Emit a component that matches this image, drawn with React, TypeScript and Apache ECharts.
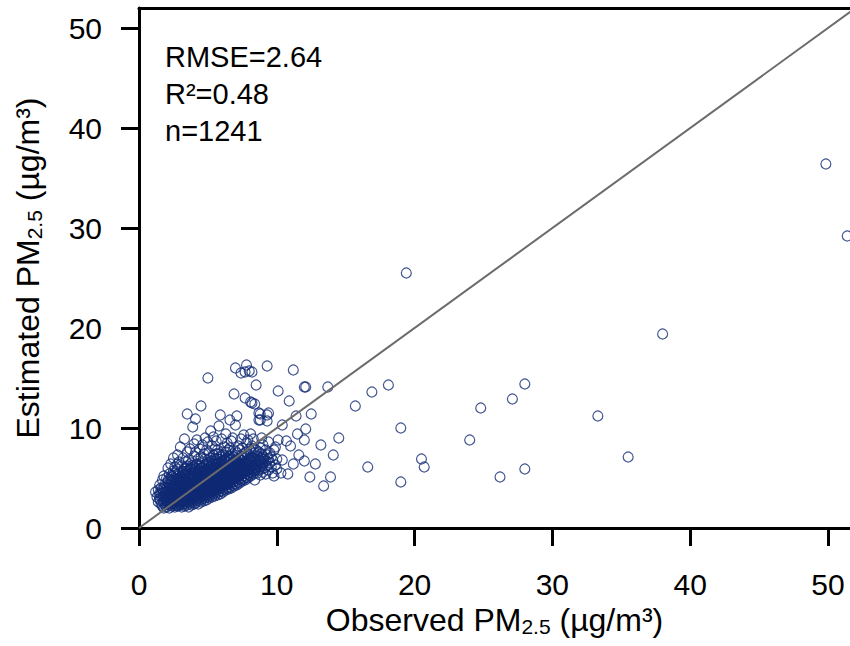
import React, { useEffect, useRef } from "react";
import * as echarts from "echarts";

const xTicks = [0, 10, 20, 30, 40, 50];
const yTicks = [0, 10, 20, 30, 40, 50];
const statLines = ["RMSE=2.64", "R²=0.48", "n=1241"];
const oneToOne = [[0, 0], [60, 60]];

// dense cluster near the origin (observed, estimated)
const clusterA = [
  [1.3,3.1],[1.4,2.6],[1.4,3.8],[1.5,2.9],[1.5,4.3],[1.6,2.4],[1.6,3.4],[1.7,2.2],[1.7,3.9],[1.7,4.8],[1.8,2.7],[1.8,3.2],[1.8,5.2],[1.9,2.3],[1.9,3.6],[1.9,4.4],[1.2,3.6],[1.5,3.5],[1.6,4.0],[1.8,2.0],
  [2.0,2.1],[2.0,2.8],[2.0,3.3],[2.0,4.1],[2.0,5.0],[2.1,2.5],[2.1,3.7],[2.1,4.6],[2.1,6.0],[2.2,2.0],[2.2,3.0],[2.2,3.5],[2.2,4.3],[2.2,5.4],[2.3,2.4],[2.3,2.9],[2.3,3.9],[2.3,4.8],[2.3,6.4],[2.4,2.2],[2.4,3.2],[2.4,3.6],[2.4,4.2],[2.4,5.1],[2.5,2.6],[2.5,3.0],[2.5,3.8],[2.5,4.5],[2.5,5.7],[2.5,7.0],[2.0,3.6],[2.1,3.0],[2.2,2.6],[2.3,3.4],[2.4,2.8],[2.5,3.4],[2.2,4.0],[2.4,4.7],
  [2.6,2.1],[2.6,2.7],[2.6,3.3],[2.6,4.0],[2.6,4.9],[2.6,6.1],[2.7,2.4],[2.7,3.0],[2.7,3.6],[2.7,4.4],[2.7,5.3],[2.8,2.2],[2.8,2.9],[2.8,3.4],[2.8,3.9],[2.8,4.7],[2.8,5.9],[2.8,7.3],[2.9,2.5],[2.9,3.1],[2.9,3.7],[2.9,4.2],[2.9,5.0],[2.9,6.6],[3.0,2.3],[3.0,2.8],[3.0,3.3],[3.0,4.0],[3.0,4.6],[3.0,5.5],[3.0,8.1],[2.6,3.7],[2.7,4.1],[2.8,3.2],[2.9,4.5],[3.0,3.7],[2.7,2.7],[2.9,2.8],[2.6,5.5],[2.8,6.4],
];
const clusterB = [
  [3.1,2.1],[3.1,2.7],[3.1,3.5],[3.1,4.3],[3.1,5.1],[3.1,6.2],[3.2,2.4],[3.2,3.0],[3.2,3.8],[3.2,4.6],[3.2,5.6],[3.2,7.0],[3.3,2.2],[3.3,2.9],[3.3,3.3],[3.3,4.1],[3.3,4.9],[3.3,5.9],[3.3,8.9],[3.4,2.6],[3.4,3.1],[3.4,3.7],[3.4,4.4],[3.4,5.3],[3.4,6.6],[3.5,2.3],[3.5,2.9],[3.5,3.5],[3.5,4.0],[3.5,4.8],[3.5,5.7],[3.5,7.6],[3.5,11.4],[3.1,3.9],[3.2,3.4],[3.3,3.7],[3.4,4.0],[3.5,4.3],[3.2,4.2],[3.4,2.8],[3.1,4.7],[3.3,5.4],[3.5,6.2],
  [3.6,2.1],[3.6,2.7],[3.6,3.3],[3.6,3.9],[3.6,4.6],[3.6,5.4],[3.6,6.8],[3.7,2.5],[3.7,3.1],[3.7,3.6],[3.7,4.2],[3.7,5.0],[3.7,6.0],[3.7,7.9],[3.8,2.3],[3.8,2.9],[3.8,3.4],[3.8,4.0],[3.8,4.7],[3.8,5.5],[3.8,6.5],[3.9,2.6],[3.9,3.2],[3.9,3.8],[3.9,4.4],[3.9,5.2],[3.9,6.1],[3.9,10.1],[4.0,2.4],[4.0,3.0],[4.0,3.5],[4.0,4.1],[4.0,4.9],[4.0,5.8],[4.0,7.2],[4.0,8.4],[3.6,4.3],[3.7,3.9],[3.8,4.4],[3.9,3.5],[4.0,4.5],[3.7,4.6],[3.8,3.7],[3.6,5.0],[3.9,4.8],[3.8,5.9],[4.1,10.9],
  [4.1,2.5],[4.1,3.1],[4.1,3.7],[4.1,4.3],[4.1,5.1],[4.1,6.0],[4.1,7.6],[4.2,2.7],[4.2,3.3],[4.2,3.9],[4.2,4.6],[4.2,5.4],[4.2,6.4],[4.2,8.8],[4.3,2.4],[4.3,3.0],[4.3,3.6],[4.3,4.2],[4.3,4.9],[4.3,5.7],[4.3,6.9],[4.4,2.8],[4.4,3.4],[4.4,4.0],[4.4,4.7],[4.4,5.5],[4.4,6.3],[4.4,7.9],[4.5,2.6],[4.5,3.2],[4.5,3.8],[4.5,4.4],[4.5,5.2],[4.5,6.0],[4.5,7.1],[4.5,12.2],[4.1,4.0],[4.2,4.3],[4.3,4.5],[4.4,4.4],[4.5,4.1],[4.2,5.0],[4.3,5.3],[4.4,5.9],[4.1,5.6],[4.5,4.8],[4.3,3.3],[4.2,3.6],
];
const clusterC = [
  [4.6,2.9],[4.6,3.5],[4.6,4.1],[4.6,4.8],[4.6,5.6],[4.6,6.6],[4.6,8.3],[4.7,2.7],[4.7,3.3],[4.7,3.9],[4.7,4.5],[4.7,5.3],[4.7,6.2],[4.7,7.4],[4.8,3.0],[4.8,3.6],[4.8,4.2],[4.8,5.0],[4.8,5.8],[4.8,6.9],[4.8,9.0],[4.9,2.8],[4.9,3.4],[4.9,4.0],[4.9,4.7],[4.9,5.5],[4.9,6.4],[4.9,7.8],[5.0,3.1],[5.0,3.7],[5.0,4.3],[5.0,5.1],[5.0,5.9],[5.0,6.8],[5.0,8.6],[5.0,15.0],[4.6,4.4],[4.7,4.9],[4.8,4.6],[4.9,5.1],[5.0,4.7],[4.6,5.2],[4.7,5.7],[4.8,5.4],[4.9,4.3],[5.0,5.5],[4.8,3.3],[4.6,3.8],
  [5.1,3.0],[5.1,3.6],[5.1,4.2],[5.1,4.9],[5.1,5.7],[5.1,6.5],[5.1,7.5],[5.2,3.3],[5.2,3.9],[5.2,4.5],[5.2,5.3],[5.2,6.1],[5.2,7.0],[5.2,9.7],[5.3,3.1],[5.3,3.7],[5.3,4.3],[5.3,5.0],[5.3,5.8],[5.3,6.7],[5.3,8.2],[5.4,3.4],[5.4,4.0],[5.4,4.7],[5.4,5.5],[5.4,6.3],[5.4,7.3],[5.4,9.1],[5.5,3.2],[5.5,3.8],[5.5,4.4],[5.5,5.1],[5.5,5.9],[5.5,6.9],[5.5,7.9],[5.1,5.3],[5.2,4.8],[5.3,5.4],[5.4,5.1],[5.5,4.8],[5.2,5.7],[5.3,6.2],[5.4,4.4],[5.1,4.5],[5.5,5.5],
  [5.6,3.5],[5.6,4.1],[5.6,4.8],[5.6,5.6],[5.6,6.4],[5.6,7.4],[5.6,8.7],[5.7,3.3],[5.7,3.9],[5.7,4.5],[5.7,5.2],[5.7,6.0],[5.7,6.9],[5.7,7.8],[5.8,3.6],[5.8,4.2],[5.8,4.9],[5.8,5.7],[5.8,6.5],[5.8,7.4],[5.8,10.2],[5.9,3.4],[5.9,4.0],[5.9,4.6],[5.9,5.4],[5.9,6.2],[5.9,7.1],[5.9,11.3],[6.0,3.7],[6.0,4.3],[6.0,5.0],[6.0,5.8],[6.0,6.6],[6.0,7.6],[6.0,8.9],[5.6,5.2],[5.7,5.6],[5.8,5.3],[5.9,5.0],[6.0,5.4],[5.7,4.8],[5.8,6.1],[5.9,5.8],[5.6,6.0],
];
const clusterD = [
  [6.1,3.6],[6.1,4.2],[6.1,4.9],[6.1,5.6],[6.1,6.4],[6.1,7.3],[6.2,3.9],[6.2,4.5],[6.2,5.2],[6.2,6.0],[6.2,6.8],[6.2,8.1],[6.3,3.8],[6.3,4.4],[6.3,5.1],[6.3,5.9],[6.3,6.7],[6.3,7.6],[6.3,9.4],[6.4,4.0],[6.4,4.7],[6.4,5.4],[6.4,6.2],[6.4,7.0],[6.4,8.5],[6.5,3.9],[6.5,4.5],[6.5,5.2],[6.5,6.0],[6.5,6.8],[6.5,7.8],[6.6,10.8],[6.1,5.3],[6.2,5.6],[6.3,5.5],[6.4,5.8],[6.5,5.6],[6.2,4.8],[6.4,4.4],
  [6.6,4.1],[6.6,4.8],[6.6,5.5],[6.6,6.3],[6.6,7.2],[6.6,8.0],[6.7,4.0],[6.7,4.6],[6.7,5.3],[6.7,6.1],[6.7,6.9],[6.7,8.7],[6.8,4.3],[6.8,5.0],[6.8,5.7],[6.8,6.5],[6.8,7.4],[6.8,9.0],[6.9,4.2],[6.9,4.9],[6.9,5.6],[6.9,6.4],[6.9,7.1],[6.9,13.4],[7.0,4.4],[7.0,5.1],[7.0,5.9],[7.0,6.7],[7.0,7.7],[7.0,10.3],[7.0,16.0],[6.6,5.9],[6.7,5.7],[6.8,6.1],[6.9,6.0],[7.0,5.5],[6.7,4.9],
  [7.1,4.3],[7.1,5.0],[7.1,5.8],[7.1,6.6],[7.1,7.5],[7.1,11.2],[7.2,4.6],[7.2,5.3],[7.2,6.1],[7.2,6.9],[7.2,8.2],[7.3,4.5],[7.3,5.2],[7.3,6.0],[7.3,6.8],[7.3,7.8],[7.4,4.8],[7.4,5.5],[7.4,6.3],[7.4,7.2],[7.4,8.9],[7.4,15.5],[7.5,4.7],[7.5,5.4],[7.5,6.2],[7.5,7.0],[7.5,8.0],[7.1,5.4],[7.2,5.7],[7.3,6.4],[7.4,5.9],[7.5,5.8],
  [7.6,4.9],[7.6,5.7],[7.6,6.5],[7.6,7.4],[7.6,9.3],[7.7,4.8],[7.7,5.6],[7.7,6.4],[7.7,7.2],[7.7,13.0],[7.7,15.6],[7.8,5.1],[7.8,5.9],[7.8,6.7],[7.8,7.6],[7.8,8.5],[7.8,16.3],[7.9,5.0],[7.9,5.8],[7.9,6.6],[7.9,7.4],[7.9,8.8],[8.0,5.3],[8.0,6.1],[8.0,6.9],[8.0,7.9],[8.0,15.7],[7.6,6.1],[7.8,6.3],[8.0,5.7],
];
const clusterE = [
  [8.1,5.2],[8.1,6.0],[8.1,6.8],[8.1,7.7],[8.1,12.6],[8.2,5.5],[8.2,6.3],[8.2,7.1],[8.2,8.2],[8.2,12.5],[8.2,15.6],[8.3,5.4],[8.3,6.2],[8.3,7.0],[8.3,7.9],[8.4,5.7],[8.4,6.6],[8.4,7.5],[8.4,12.4],[8.4,4.8],[8.5,5.9],[8.5,6.8],[8.5,7.8],[8.5,14.3],[8.1,9.4],[8.3,8.9],
  [8.6,5.5],[8.6,6.3],[8.6,7.2],[8.7,5.8],[8.7,6.7],[8.7,7.6],[8.7,10.8],[8.7,11.5],[8.8,5.3],[8.8,6.1],[8.8,7.0],[8.8,8.0],[8.8,11.4],[8.8,10.8],[8.9,5.9],[8.9,6.6],[8.9,7.4],[8.9,9.0],[9.0,5.6],[9.0,6.4],[9.0,7.2],[9.0,8.3],
  [9.1,6.0],[9.1,7.0],[9.2,5.4],[9.2,6.7],[9.2,7.8],[9.3,6.2],[9.3,7.3],[9.3,11.3],[9.3,10.7],[9.3,16.2],[9.4,5.8],[9.4,6.9],[9.4,8.6],[9.4,11.5],[9.5,6.5],[9.5,7.5],[9.6,6.1],[9.6,7.1],[9.7,5.5],[9.7,6.8],[9.8,5.2],[9.8,7.8],[9.9,6.3],[9.9,8.1],[10.0,6.9],[10.0,5.9],
];
// extra points filling the dense core of the cluster
const clusterF = [
  [1.45,3.25],[1.55,2.75],[1.65,3.15],[1.75,2.55],[1.75,3.55],[1.85,2.95],[1.85,4.05],[1.95,2.65],[1.95,3.25],[2.05,2.35],[2.05,3.95],[2.15,2.75],[2.15,3.35],[2.15,4.85],[2.25,2.25],[2.25,3.15],[2.25,3.75],[2.35,2.65],[2.35,4.15],[2.35,5.25],[2.45,2.45],[2.45,3.35],[2.45,3.95],[2.55,2.35],[2.55,3.15],[2.55,4.25],[2.55,4.95],[2.65,2.95],[2.65,3.55],[2.65,4.45],[2.75,2.25],[2.75,3.25],[2.75,3.85],[2.75,4.85],[2.85,2.65],[2.85,3.55],[2.85,4.35],[2.85,5.45],[2.95,2.35],[2.95,3.35],[2.95,3.95],[2.95,4.85],
  [3.05,2.55],[3.05,3.15],[3.05,4.25],[3.05,5.15],[3.15,2.95],[3.15,3.65],[3.15,4.45],[3.15,5.65],[3.25,2.65],[3.25,3.25],[3.25,4.05],[3.25,4.85],[3.35,2.45],[3.35,3.55],[3.35,4.35],[3.35,5.15],[3.45,2.95],[3.45,3.85],[3.45,4.65],[3.45,5.95],[3.55,2.65],[3.55,3.25],[3.55,4.15],[3.55,5.05],[3.65,2.95],[3.65,3.65],[3.65,4.45],[3.65,5.75],[3.75,2.75],[3.75,3.35],[3.75,4.35],[3.75,5.25],[3.85,3.05],[3.85,3.95],[3.85,4.85],[3.85,6.25],[3.95,2.85],[3.95,3.65],[3.95,4.55],[3.95,5.45],
  [4.05,3.25],[4.05,3.85],[4.05,4.65],[4.05,5.35],[4.15,2.85],[4.15,3.45],[4.15,4.45],[4.15,6.35],[4.25,3.05],[4.25,4.05],[4.25,4.85],[4.25,5.75],[4.35,3.35],[4.35,3.95],[4.35,4.75],[4.35,6.15],[4.45,3.05],[4.45,3.65],[4.45,4.25],[4.45,5.15],[4.55,3.45],[4.55,4.05],[4.55,4.65],[4.55,5.65],[4.65,3.15],[4.65,3.95],[4.65,5.05],[4.65,6.05],[4.75,3.55],[4.75,4.25],[4.75,4.75],[4.75,5.55],[4.85,3.85],[4.85,4.45],[4.85,5.25],[4.85,6.35],[4.95,3.25],[4.95,4.15],[4.95,4.95],[4.95,5.85],
  [5.05,3.45],[5.05,4.05],[5.05,4.85],[5.05,6.25],[5.15,3.85],[5.15,4.65],[5.15,5.45],[5.15,6.05],[5.25,3.55],[5.25,4.25],[5.25,5.05],[5.25,5.95],[5.35,3.95],[5.35,4.55],[5.35,5.25],[5.35,6.45],[5.45,3.65],[5.45,4.25],[5.45,5.35],[5.45,6.05],[5.55,4.05],[5.55,4.65],[5.55,5.65],[5.55,6.65],[5.65,3.75],[5.65,4.45],[5.65,5.45],[5.65,6.25],[5.75,4.15],[5.75,5.05],[5.75,5.85],[5.75,6.55],[5.85,3.95],[5.85,4.55],[5.85,5.55],[5.85,6.85],[5.95,4.25],[5.95,4.85],[5.95,5.65],[5.95,6.45],
  [6.05,4.05],[6.05,4.65],[6.05,5.25],[6.05,6.15],[6.15,4.45],[6.15,5.05],[6.15,5.85],[6.15,6.75],[6.25,4.25],[6.25,4.95],[6.25,5.45],[6.25,6.35],[6.35,4.55],[6.35,5.25],[6.35,6.05],[6.35,6.95],[6.45,4.35],[6.45,5.05],[6.45,5.75],[6.45,6.55],[6.55,4.75],[6.55,5.35],[6.55,6.25],[6.55,7.15],[6.65,4.45],[6.65,5.15],[6.65,5.95],[6.75,4.85],[6.75,5.55],[6.75,6.45],[6.85,4.65],[6.85,5.35],[6.85,6.25],[6.95,5.05],[6.95,5.85],[6.95,6.75],
  [7.05,4.75],[7.05,5.45],[7.05,6.35],[7.15,5.15],[7.15,6.05],[7.25,4.95],[7.25,5.75],[7.25,6.55],[7.35,5.35],[7.35,6.15],[7.45,5.05],[7.45,5.95],[7.45,6.75],[7.55,5.55],[7.55,6.35],[7.65,5.25],[7.65,6.05],[7.75,5.65],[7.75,6.55],[7.85,5.45],[7.85,6.25],[7.95,5.85],[7.95,6.85],[8.05,5.55],[8.05,6.45],[8.15,5.85],[8.25,6.65],[8.35,5.95],[8.45,6.35],[8.55,6.05],[8.65,6.85],[8.75,6.35],[8.85,6.75],[8.95,6.25],[9.05,6.85],
];
// scattered points away from the cluster
const outliers = [
  [10.1,8.8],[10.1,13.7],[10.3,5.5],[10.4,6.8],[10.4,10.3],[10.7,8.7],[10.8,5.4],[10.9,12.7],[11.0,8.2],[11.2,6.4],[11.2,15.8],[11.4,11.2],[11.5,9.4],[11.6,7.3],[12.0,8.8],[12.0,14.1],[12.1,14.1],[12.1,9.9],[12.0,6.7],[12.5,11.4],[12.4,5.1],[12.8,6.4],[13.2,8.3],[13.7,14.1],[13.4,4.2],[13.9,5.1],[14.1,7.3],[14.5,9.0],[15.7,12.2],[16.6,6.1],[16.9,13.6],[18.1,14.3],[19.0,10.0],[19.0,4.6],[19.4,25.5],[20.5,6.9],[20.7,6.1],[24.0,8.8],[24.8,12.0],[26.2,5.1],[27.1,12.9],[28.0,14.4],[28.0,5.9],[33.3,11.2],[35.5,7.1],[38.0,19.4],[49.85,36.4],[51.4,29.2],
];

const FONT = "'Liberation Sans', Arial, sans-serif";

export default function App() {
  const ref = useRef<HTMLDivElement>(null);
  useEffect(() => {
    if (!ref.current) return;
    const chart = echarts.init(ref.current, null, { renderer: "svg" });
    const points = [...clusterA, ...clusterB, ...clusterC, ...clusterD, ...clusterE, ...clusterF, ...outliers];
    const axisLineStyle = { color: "#000", width: 3 };
    const rich = {
      a: { fontSize: 32, fontFamily: FONT, color: "#000", lineHeight: 34 },
      s: { fontSize: 21, fontFamily: FONT, color: "#000", lineHeight: 16, verticalAlign: "bottom" },
    };
    chart.setOption({
      animation: false,
      backgroundColor: "#fff",
      textStyle: { fontFamily: FONT },
      grid: { left: 139, right: 0, top: 8, bottom: 118, containLabel: false },
      xAxis: [
        {
          type: "value",
          min: 0,
          max: 51.6,
          position: "bottom",
          axisLine: { show: true, lineStyle: axisLineStyle },
          axisTick: { show: true, length: 18, lineStyle: { color: "#000", width: 3 }, customValues: xTicks },
          axisLabel: { show: true, customValues: xTicks, margin: 41, fontSize: 30, color: "#000", fontFamily: FONT },
          splitLine: { show: false },
          name: "{a|Observed PM}{s|2.5}{a| (µg/m³)}",
          nameLocation: "middle",
          nameGap: 71,
          nameTextStyle: { rich },
        },
        {
          type: "value",
          min: 0,
          max: 51.6,
          position: "top",
          axisLine: { show: true, onZero: false, lineStyle: axisLineStyle },
          axisTick: { show: false },
          axisLabel: { show: false },
          splitLine: { show: false },
        },
      ],
      yAxis: {
        type: "value",
        min: 0,
        max: 52,
        axisLine: { show: true, lineStyle: axisLineStyle },
        axisTick: { show: true, length: 18, lineStyle: { color: "#000", width: 3 }, customValues: yTicks },
        axisLabel: { show: true, customValues: yTicks, margin: 37, fontSize: 30, color: "#000", fontFamily: FONT },
        splitLine: { show: false },
        name: "{a|Estimated PM}{s|2.5}{a| (µg/m³)}",
        nameLocation: "middle",
        nameRotate: 90,
        nameGap: 94,
        nameTextStyle: { rich },
      },
      graphic: statLines.map((t, i) => ({
        type: "text",
        left: 165,
        top: 42 + i * 37,
        style: { text: t, font: `29px ${FONT}`, fill: "#000" },
      })),
      series: [
        {
          type: "scatter",
          xAxisIndex: 0,
          data: points,
          symbol: "circle",
          symbolSize: 10,
          itemStyle: { color: "rgba(0,0,0,0)", borderColor: "#102a74", borderWidth: 1.2 },
          emphasis: { disabled: true },
        },
        {
          type: "line",
          xAxisIndex: 0,
          data: oneToOne,
          symbol: "none",
          lineStyle: { color: "#6b6b6b", width: 2 },
          silent: true,
        },
      ],
    });
    return () => chart.dispose();
  }, []);
  return <div ref={ref} style={{ position: "fixed", left: 0, top: 0, width: 850, height: 646 }} />;
}
